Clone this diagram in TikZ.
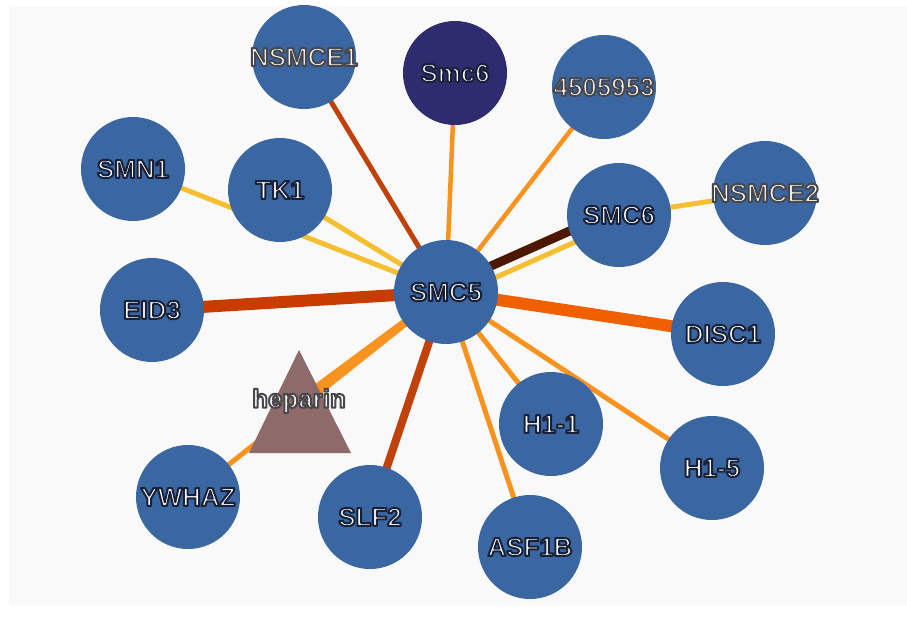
\documentclass[tikz,border=0pt]{standalone}
\usepackage{fontspec}
\setmainfont{Liberation Sans}
\newfontfamily\lblfont{Liberation Sans Bold}
\definecolor{bgc}{HTML}{F9F9F9}
\definecolor{nodeblue}{HTML}{3A66A2}
\definecolor{navy}{HTML}{2E2C6E}
\definecolor{tri}{HTML}{8E6A6A}
\definecolor{eyellow}{HTML}{F6BF32}
\definecolor{eorange}{HTML}{F7931E}
\definecolor{ered}{HTML}{C0420A}
\definecolor{eredthick}{HTML}{C83C00}
\definecolor{edisc}{HTML}{F05F00}
\definecolor{ebrown}{HTML}{4D1800}
\pgfdeclarelayer{bglayer}
\pgfdeclarelayer{edgelayer}
\pgfsetlayers{bglayer,edgelayer,main}
\tikzset{
  lbl/.style={text=white, font=\lblfont\fontsize{26}{30}\selectfont, inner sep=0pt},
  prot/.style={circle, fill=nodeblue, minimum size=104bp, inner sep=0pt,
    label={[lbl]center:#1}},
  edge/.style={line cap=butt},
}
% outlined text: white fill, dark stroke (text render mode 2, round joins)
\newcommand{\hl}[1]{\special{pdf:literal direct 0.10 0.13 0.22 RG 2 Tr 2 w 1 j}#1\special{pdf:literal direct 0 Tr 1 w 0 j}}
\newcommand{\hg}[1]{\special{pdf:literal direct 0.28 0.28 0.30 RG 2 Tr 2 w 1 j}#1\special{pdf:literal direct 0 Tr 1 w 0 j}}
\begin{document}
\begin{tikzpicture}[x=1bp,y=-1bp]
\useasboundingbox (0,0) rectangle (907,619);
\begin{pgfonlayer}{bglayer}
\fill[white] (0,0) rectangle (907,619);
\fill[bgc] (9,6) rectangle (907,606);
\end{pgfonlayer}
% nodes
\node[prot={\hl{SMC5}}] (SMC5) at (446,292) {};
\node[prot={\hg{NSMCE1}}] (NSMCE1) at (304,57) {};
\node[prot={\hl{Smc6}}, fill=navy] (Smc6) at (455,73) {};
\node[prot={\hg{4505953}}] (n4505953) at (604,87) {};
\node[prot={\hl{SMN1}}] (SMN1) at (133,169) {};
\node[prot={\hl{TK1}}] (TK1) at (280,190) {};
\node[prot={\hl{SMC6}}] (SMC6) at (619,215) {};
\node[prot={\hg{NSMCE2}}] (NSMCE2) at (765,193) {};
\node[prot={\hl{EID3}}] (EID3) at (152,310) {};
\node[prot={\hl{DISC1}}] (DISC1) at (723,334) {};
\node[prot={\hl{H1-1}}] (H11) at (551,424) {};
\node[prot={\hl{H1-5}}] (H15) at (712,468) {};
\node[prot={\hl{YWHAZ}}] (YWHAZ) at (188,497) {};
\node[prot={\hl{SLF2}}] (SLF2) at (370,517) {};
\node[prot={\hl{ASF1B}}] (ASF1B) at (530,547) {};
\fill[tri] (299,350) -- (351,453) -- (249,453) -- cycle;
\node[lbl] (heparin) at (299,401) {\hg{heparin}};
% edges
\begin{pgfonlayer}{edgelayer}
\draw[edge, ered, line width=5bp] (SMC5.center) -- (NSMCE1.center);
\draw[edge, eorange, line width=4.5bp] (SMC5.center) -- (Smc6.center);
\draw[edge, eorange, line width=4.5bp] (SMC5.center) -- (n4505953.center);
\draw[edge, eyellow, line width=5bp, transform canvas={shift={(2.8,6.3)}}] (SMC5.center) -- (SMC6.center);
\draw[edge, ebrown, line width=9bp, transform canvas={shift={(-2.2,-5)}}] (SMC5.center) -- (SMC6.center);
\draw[edge, eyellow, line width=5bp] (SMC6.center) -- (NSMCE2.center);
\draw[edge, eyellow, line width=5bp] (SMC5.center) -- (TK1.center);
\draw[edge, eyellow, line width=5bp] (SMC5.center) -- (SMN1.center);
\draw[edge, eredthick, line width=12bp] (SMC5.center) -- (EID3.center);
\draw[edge, edisc, line width=12bp] (SMC5.center) -- (DISC1.center);
\draw[edge, eorange, line width=5bp] (SMC5.center) -- (YWHAZ.center);
\draw[edge, eorange, line width=8bp] (SMC5.center) -- (heparin.center);
\draw[edge, ered, line width=8bp] (SMC5.center) -- (SLF2.center);
\draw[edge, eorange, line width=5bp] (SMC5.center) -- (ASF1B.center);
\draw[edge, eorange, line width=5bp] (SMC5.center) -- (H11.center);
\draw[edge, eorange, line width=5bp] (SMC5.center) -- (H15.center);
\end{pgfonlayer}
\end{tikzpicture}
\end{document}
